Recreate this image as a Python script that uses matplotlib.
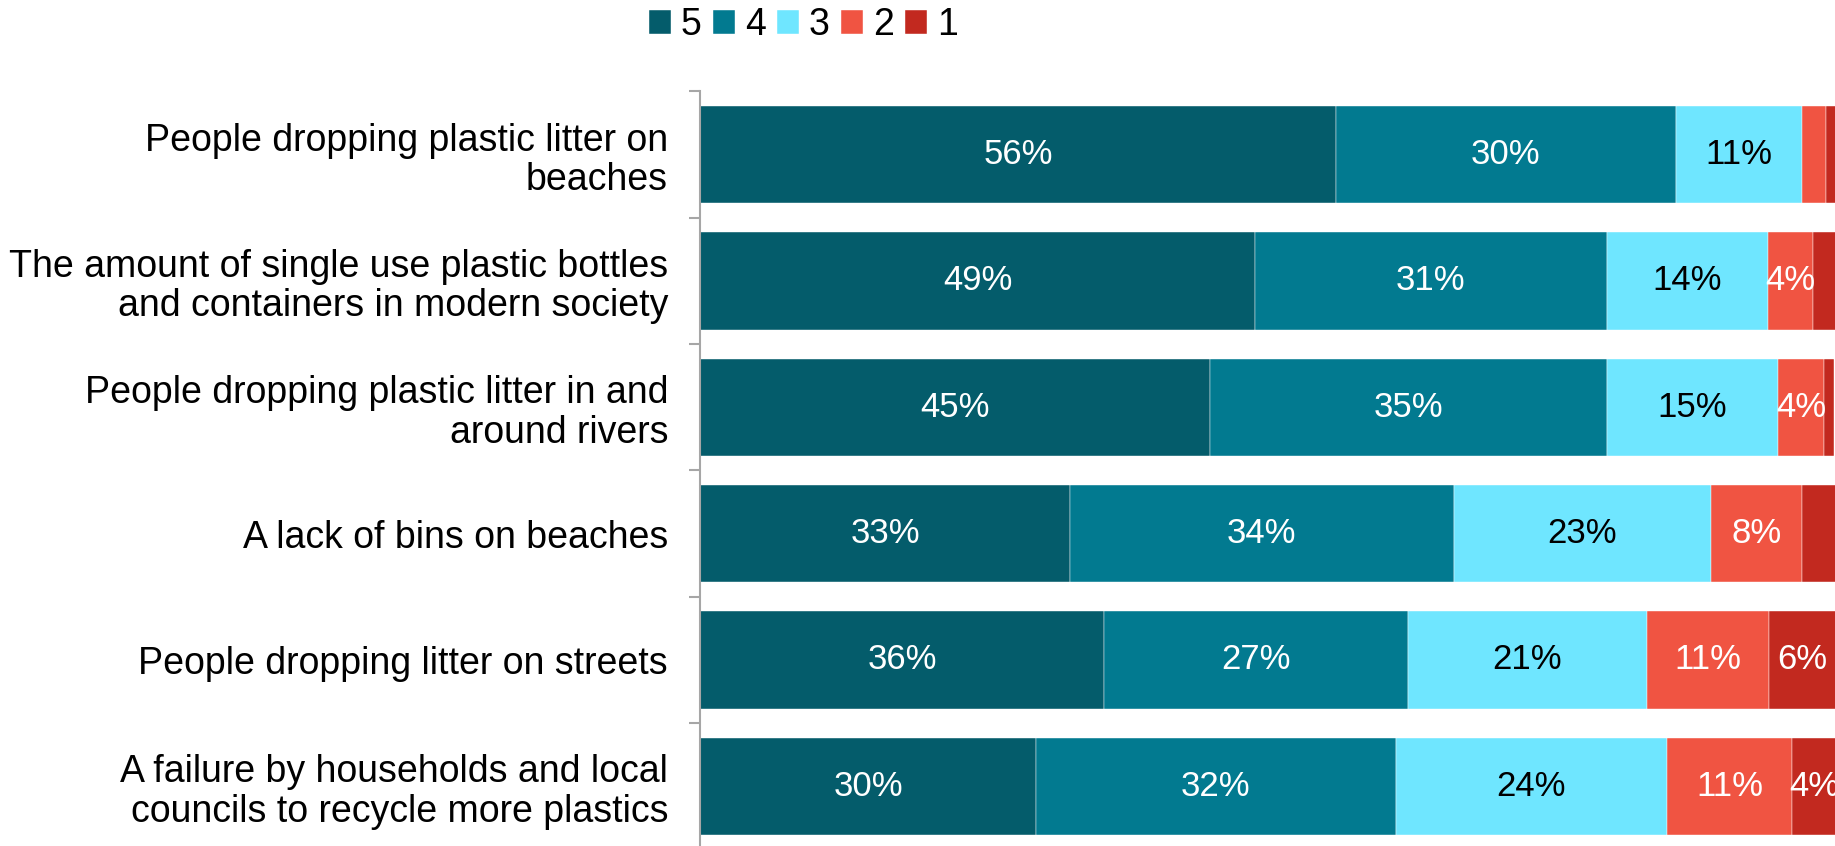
import matplotlib.pyplot as plt
import numpy as np

plt.rcParams['font.family'] = ['Liberation Sans', 'DejaVu Sans']

# categories top to bottom
categories = [
    "People dropping plastic litter on\nbeaches",
    "The amount of single use plastic bottles\nand containers in modern society",
    "People dropping plastic litter in and\naround rivers",
    "A lack of bins on beaches",
    "People dropping litter on streets",
    "A failure by households and local\ncouncils to recycle more plastics",
]

# share of answers per score (%)
score5 = [56.0, 48.9, 44.9, 32.6, 35.6, 29.6]
score4 = [30.0, 31.0, 35.0, 33.8, 26.8, 31.7]
score3 = [11.1, 14.2, 15.1, 22.7, 21.0, 23.9]
score2 = [2.1, 4.0, 4.0, 8.0, 10.8, 11.0]
score1 = [0.9, 2.0, 0.9, 3.0, 5.9, 3.9]

series_names = ["5", "4", "3", "2", "1"]
colors = ["#045C6B", "#027A90", "#6FE6FF", "#F05442", "#C2291F"]
text_colors = ["white", "white", "black", "white", "white"]

fig = plt.figure(figsize=(18.35, 8.46), dpi=100)
ax = fig.add_axes([0.3815, -0.004, 0.6185, 0.896])

y = np.arange(len(categories))
left = np.zeros(len(categories))
for vals, name, col, tcol in zip([score5, score4, score3, score2, score1],
                                 series_names, colors, text_colors):
    vals = np.array(vals)
    ax.barh(y, vals, left=left, height=0.77, color=col, label=name,
            edgecolor="white", linewidth=0.3)
    for yi, l, v in zip(y, left, vals):
        if v >= 3.5:
            ax.text(l + v / 2, yi, f"{v:.0f}%", ha="center", va="center",
                    color=tcol, fontsize=25)
    left += vals

ax.set_xlim(0, 100)
ax.set_ylim(len(categories) - 0.5, -0.5)
ax.set_xticks([])
ax.set_yticks(y)
ax.set_yticklabels(categories, fontsize=27, linespacing=1.12)
ax.set_yticks(np.arange(len(categories) + 1) - 0.5, minor=True)
ax.tick_params(axis="y", which="major", length=0, pad=23)
ax.tick_params(axis="y", which="minor", length=8, color="#A6A6A6", width=1.5)
for s in ["top", "right", "bottom"]:
    ax.spines[s].set_visible(False)
ax.spines["left"].set_color("#A6A6A6")
ax.spines["left"].set_linewidth(1.5)

fig.legend(loc="center", bbox_to_anchor=(0.4377, 0.97), ncol=5, frameon=False,
           fontsize=27, handlelength=0.6, handleheight=0.6, handletextpad=0.25,
           columnspacing=0.3)

fig.savefig("out.png", dpi=100)
